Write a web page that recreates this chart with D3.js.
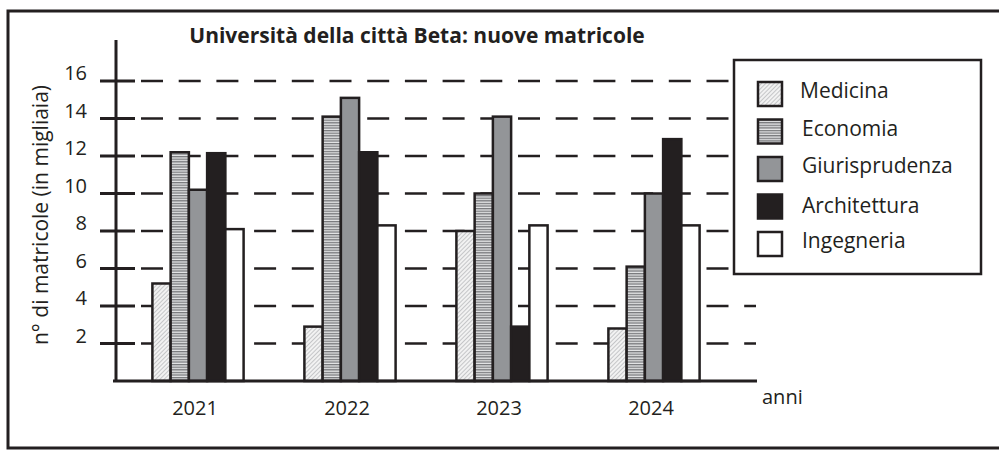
<!DOCTYPE html>
<html>
<head>
<meta charset="utf-8">
<script src="https://cdn.jsdelivr.net/npm/d3@7"></script>
<style>
  body { margin: 0; background: #fff; }
  svg { font-family: "Open Sans", sans-serif; }
</style>
</head>
<body>
<script>
const years = ['2021', '2022', '2023', '2024'];
const faculties = ['Medicina', 'Economia', 'Giurisprudenza', 'Architettura', 'Ingegneria'];
const medicina = [5.2, 2.9, 8.0, 2.8];
const economia = [12.2, 14.1, 10.0, 6.1];
const giurisprudenza = [10.2, 15.1, 14.1, 10.0];
const architettura = [12.15, 12.2, 2.9, 12.9];
const ingegneria = [8.1, 8.3, 8.3, 8.3];
const yTicks = [2, 4, 6, 8, 10, 12, 14, 16];

const series = [medicina, economia, giurisprudenza, architettura, ingegneria];
const ink = '#231f20';

const svg = d3.select('body').append('svg')
    .attr('width', 999)
    .attr('height', 451);

const defs = svg.append('defs');
const hatch = defs.append('pattern')
    .attr('id', 'hatch')
    .attr('patternUnits', 'userSpaceOnUse')
    .attr('width', 3).attr('height', 3)
    .attr('patternTransform', 'rotate(45)');
hatch.append('rect').attr('width', 3).attr('height', 3).attr('fill', '#f2f2f2');
hatch.append('line').attr('x1', 0).attr('y1', 0).attr('x2', 0).attr('y2', 3)
    .attr('stroke', '#a7a9ac').attr('stroke-width', 1.2);

const stripes = defs.append('pattern')
    .attr('id', 'stripes')
    .attr('patternUnits', 'userSpaceOnUse')
    .attr('width', 4).attr('height', 2.6);
stripes.append('rect').attr('width', 4).attr('height', 2.6).attr('fill', '#e6e7e8');
stripes.append('rect').attr('width', 4).attr('height', 1.3).attr('fill', '#77787b');

const fills = ['url(#hatch)', 'url(#stripes)', '#939598', ink, '#fff'];
const color = d3.scaleOrdinal().domain(faculties).range(fills);

// frame (right side is cut off in the original)
svg.append('path')
    .attr('d', 'M999,11H8V448H999')
    .attr('fill', 'none')
    .attr('stroke', ink)
    .attr('stroke-width', 3);

const y = d3.scaleLinear().domain([0, 16]).range([381, 81]);
const x0 = d3.scaleBand().domain(years).range([122, 730]).paddingInner(0.4).paddingOuter(0.2);
const x1 = d3.scaleBand().domain(faculties).range([0, x0.bandwidth()]);

// dashed grid lines
svg.append('g').selectAll('line')
    .data(yTicks)
    .join('line')
    .attr('x1', 141).attr('x2', 756)
    .attr('y1', d => y(d)).attr('y2', d => y(d))
    .attr('stroke', ink)
    .attr('stroke-width', 2.5)
    .attr('stroke-dasharray', '22,15.7');

// tick marks
svg.append('g').selectAll('line')
    .data(yTicks)
    .join('line')
    .attr('x1', 100).attr('x2', 135)
    .attr('y1', d => y(d)).attr('y2', d => y(d))
    .attr('stroke', ink)
    .attr('stroke-width', 3);

// tick labels
svg.append('g').selectAll('text')
    .data(yTicks)
    .join('text')
    .attr('x', 87)
    .attr('y', d => y(d) - 1)
    .attr('text-anchor', 'end')
    .attr('font-size', 20)
    .attr('fill', ink)
    .text(d => d);

// bars
const groups = svg.append('g').selectAll('g')
    .data(years)
    .join('g')
    .attr('transform', d => `translate(${x0(d)},0)`);

groups.selectAll('rect')
    .data((d, i) => faculties.map((f, k) => ({ f, v: series[k][i] })))
    .join('rect')
    .attr('x', d => x1(d.f))
    .attr('y', d => y(d.v))
    .attr('width', x1.bandwidth())
    .attr('height', d => y(0) - y(d.v))
    .attr('fill', d => color(d.f))
    .attr('stroke', ink)
    .attr('stroke-width', 2.5);

// axes
svg.append('line')
    .attr('x1', 116).attr('x2', 116)
    .attr('y1', 40).attr('y2', 382)
    .attr('stroke', ink).attr('stroke-width', 3);
svg.append('line')
    .attr('x1', 113).attr('x2', 757)
    .attr('y1', 381).attr('y2', 381)
    .attr('stroke', ink).attr('stroke-width', 3);

// year labels
svg.append('g').selectAll('text')
    .data(years)
    .join('text')
    .attr('x', d => x0(d) + x0.bandwidth() / 2 - 3)
    .attr('y', 415)
    .attr('text-anchor', 'middle')
    .attr('font-size', 20)
    .attr('fill', ink)
    .text(d => d);

svg.append('text')
    .attr('x', 762).attr('y', 404)
    .attr('font-size', 20)
    .attr('fill', ink)
    .text('anni');

// y title
svg.append('text')
    .attr('transform', 'translate(48,215) rotate(-90)')
    .attr('text-anchor', 'middle')
    .attr('font-size', 21)
    .attr('fill', ink)
    .text('n° di matricole (in migliaia)');

// title
svg.append('text')
    .attr('x', 417).attr('y', 43)
    .attr('text-anchor', 'middle')
    .attr('font-size', 21)
    .attr('font-weight', 'bold')
    .attr('fill', ink)
    .text('Università della città Beta: nuove matricole');

// legend
const legend = svg.append('g');
legend.append('rect')
    .attr('x', 734).attr('y', 60)
    .attr('width', 247).attr('height', 214)
    .attr('fill', '#fff')
    .attr('stroke', ink)
    .attr('stroke-width', 2.5);

const item = legend.selectAll('g')
    .data(faculties)
    .join('g')
    .attr('transform', (d, i) => `translate(758,${82 + i * 37.5})`);
item.append('rect')
    .attr('width', 24).attr('height', 24)
    .attr('fill', d => color(d))
    .attr('stroke', ink)
    .attr('stroke-width', 2.5);
item.append('text')
    .attr('x', (d, i) => i === 0 ? 42 : 44)
    .attr('y', (d, i) => i === 3 ? 18 : 16)
    .attr('font-size', 21)
    .attr('fill', ink)
    .text(d => d);
</script>
</body>
</html>
